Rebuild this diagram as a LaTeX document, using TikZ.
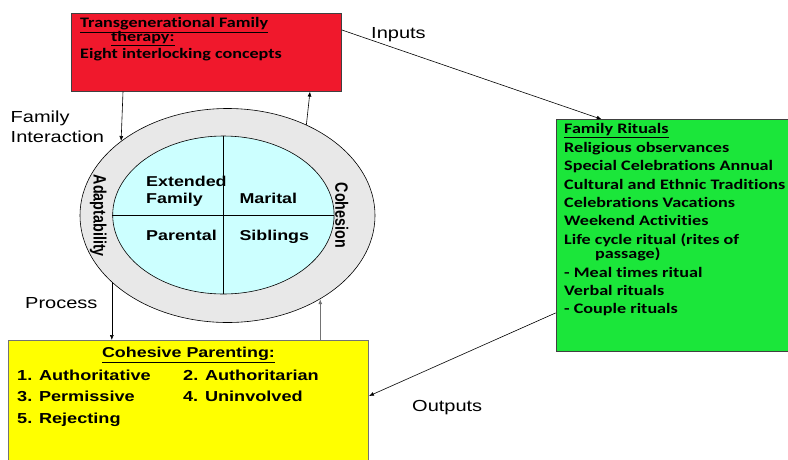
\documentclass[tikz,border=0pt]{standalone}
\usepackage{fontspec}
\usepackage{graphicx}
\usetikzlibrary{shapes.geometric,arrows.meta}
\newfontfamily\arialw{Liberation Sans}[FakeStretch=1.25]
\newfontfamily\arialn{Liberation Sans}
\newfontfamily\calibriw{Carlito}[FakeStretch=1.25,Ligatures=NoCommon]
\definecolor{boxred}{RGB}{240,24,44}
\definecolor{boxgreen}{RGB}{27,230,58}
\definecolor{boxyellow}{RGB}{255,255,0}
\definecolor{ringgray}{RGB}{232,232,232}
\definecolor{corecyan}{RGB}{204,255,255}

\begin{document}
\begin{tikzpicture}[x=1pt,y=-1pt,
  box/.style={draw=black!75,line width=0.9pt,inner sep=0pt,anchor=north west},
  conn/.style={-{Latex[length=5pt,width=4pt]},line width=0.6pt},
  lbl/.style={font=\arialw\fontsize{16}{20}\selectfont,inner sep=0pt,align=left},
  quad/.style={font=\arialw\bfseries\fontsize{14.3}{17}\selectfont,inner sep=0pt,align=left},
  side/.style={font=\arialn\bfseries\fontsize{14.3}{17}\selectfont,inner sep=0pt,rotate=-90},
  boxtext/.style={font=\calibriw\bfseries\fontsize{14.5}{18.4}\selectfont,inner sep=0pt,align=left,anchor=north west}]
\useasboundingbox (0,0) rectangle (788,459);

% the three boxes
\node[box,fill=boxred,minimum width=270pt,minimum height=78pt] (redbox) at (71,12.7) {};
\node[box,fill=boxgreen,minimum width=234pt,minimum height=231.4pt] (greenbox) at (555.7,119.3) {};
\node[box,draw=black!55,fill=boxyellow,minimum width=360pt,minimum height=125pt] (yellowbox) at (8,340) {};

\node[boxtext] (redtext) at (80,17.5) {\underline{Transgenerational Family}\\[-4.4pt]\hspace*{31pt}\underline{therapy:}\\[-1.6pt]Eight interlocking concepts};
\node[boxtext] (greentext) at (564,123.5) {\underline{Family Rituals}\\Religious observances\\Special Celebrations Annual\\Cultural and Ethnic Traditions\\Celebrations Vacations\\Weekend Activities\\Life cycle ritual (rites of\\[-4pt]\hspace*{31pt}passage)\\- Meal times ritual\\Verbal rituals\\- Couple rituals};
\node[quad] (yellowhead) at (188.5,355) {\underline{Cohesive Parenting:}};
\node[quad,anchor=north west,font=\arialw\bfseries\fontsize{14.5}{21.7}\selectfont] (yellowitems) at (17,369.5) {\makebox[166pt][l]{1. Authoritative}2. Authoritarian\\\makebox[166pt][l]{3. Permissive}4. Uninvolved\\5. Rejecting};

% the family ellipse
\node[ellipse,draw,line width=0.6pt,fill=ringgray,inner sep=0pt,minimum width=295pt,minimum height=214pt] (outer) at (227.5,215.5) {};
\node[ellipse,draw,line width=0.6pt,fill=corecyan,inner sep=0pt,minimum width=221.4pt,minimum height=158pt] (inner) at (223.4,215) {};
\draw[line width=0.6pt] (inner.north) -- (inner.south);
\draw[line width=0.6pt] (inner.west) -- (inner.east);

\node[quad,anchor=north west] (extended) at (146,175.7) {Extended\\Family};
\node[quad,anchor=base west] (marital) at (239.3,203) {Marital};
\node[quad,anchor=base west] (parental) at (146,240) {Parental};
\node[quad,anchor=base west] (siblings) at (239.3,240) {Siblings};
\node[side] (adapt) at (98.3,215.8) {\scalebox{1}[1.25]{Adaptability}};
\node[side] (cohesion) at (341.7,215.5) {\scalebox{1}[1.25]{Cohesion}};

% labels
\node[lbl,anchor=north west] (famint) at (10.5,111) {Family\\Interaction};
\node[lbl,anchor=base west] (process) at (25,308.4) {Process};
\node[lbl,anchor=base west] (inputs) at (371,38.5) {Inputs};
\node[lbl,anchor=base west] (outputs) at (412,411.5) {Outputs};

% connectors
\draw[conn] ([xshift=52pt]redbox.south west) -- (outer.145);
\draw[conn] (outer.49) -- ([xshift=239pt]redbox.south west);
\draw[conn] ([yshift=-17.3pt]redbox.north east) -- ([xshift=46pt]greenbox.north west);
\draw[conn] ([yshift=38.7pt]greenbox.south west) -- ([yshift=-56pt]yellowbox.north east);
\draw[conn] (outer.210) -- (outer.210 |- yellowbox.north);
\draw[conn,draw=black!55,line width=1.2pt] (outer.318 |- yellowbox.north) -- (outer.318);
\end{tikzpicture}
\end{document}
